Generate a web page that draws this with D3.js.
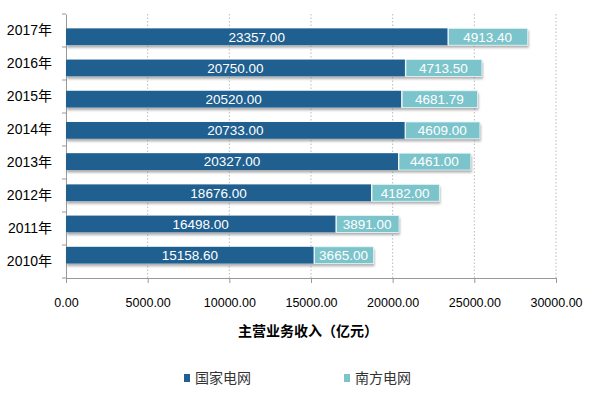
<!DOCTYPE html>
<html>
<head>
<meta charset="utf-8">
<script src="https://cdnjs.cloudflare.com/ajax/libs/d3/7.8.5/d3.min.js"></script>
<style>
body { margin: 0; background: #fff; }
text { font-family: "Liberation Sans", "Noto Sans CJK SC", sans-serif; }
</style>
</head>
<body>
<div id="chart"></div>
<script>
var years = ["2010年", "2011年", "2012年", "2013年", "2014年", "2015年", "2016年", "2017年"];
var stateGrid = [15158.60, 16498.00, 18676.00, 20327.00, 20733.00, 20520.00, 20750.00, 23357.00];
var southGrid = [3665.00, 3891.00, 4182.00, 4461.00, 4609.00, 4681.79, 4713.50, 4913.40];
var seriesNames = ["国家电网", "南方电网"];
var xTicks = [0, 5000, 10000, 15000, 20000, 25000, 30000];
var colors = ["#1f6090", "#7cc4cb"];

var W = 600, H = 398;
var svg = d3.select("#chart").append("svg")
	.attr("width", W)
	.attr("height", H);

var defs = svg.append("defs");
var shadow = defs.append("filter").attr("id", "shadow")
	.attr("x", "-5%").attr("y", "-20%").attr("width", "110%").attr("height", "160%");
shadow.append("feDropShadow")
	.attr("dx", 1).attr("dy", 2.5).attr("stdDeviation", 1.2)
	.attr("flood-color", "#777").attr("flood-opacity", 0.6);

var x = d3.scaleLinear().domain([0, 30000]).range([66, 556]);
var y = d3.scaleBand().domain(years.slice().reverse()).range([14, 278]).padding(0.46);
var band = d3.scaleBand().domain(years.slice().reverse()).range([14, 278]);

// dotted grid
svg.append("g").selectAll("line")
	.data(xTicks.slice(1))
	.enter().append("line")
	.attr("x1", function(d) { return x(d); })
	.attr("x2", function(d) { return x(d); })
	.attr("y1", 14).attr("y2", 278)
	.attr("stroke", "#bbb")
	.attr("stroke-dasharray", "1.5,2");

// x axis
var xAxis = svg.append("g")
	.attr("transform", "translate(0,278)")
	.call(d3.axisBottom(x).tickValues(xTicks).tickSize(5).tickPadding(15).tickFormat(d3.format(".2f")));
xAxis.select(".domain").attr("stroke", "#999");
xAxis.selectAll(".tick line").attr("stroke", "#999");
xAxis.selectAll("text").attr("font-size", 12.5).attr("fill", "#000");

// y axis
var yAxis = svg.append("g")
	.attr("transform", "translate(66,0)")
	.call(d3.axisLeft(band).tickSize(0).tickPadding(14));
yAxis.select(".domain").attr("stroke", "#999");
yAxis.selectAll("text").attr("font-size", 14).attr("fill", "#000");
// category separator ticks
yAxis.selectAll(".sep")
	.data(d3.range(years.length + 1))
	.enter().append("line")
	.attr("x1", -4).attr("x2", 0)
	.attr("y1", function(i) { return 14 + i * band.step(); })
	.attr("y2", function(i) { return 14 + i * band.step(); })
	.attr("stroke", "#999");

// bars
var rows = years.map(function(yr, i) {
	return { year: yr, a: stateGrid[i], b: southGrid[i] };
});
var g = svg.append("g").selectAll("g")
	.data(rows)
	.enter().append("g");

g.append("rect")
	.attr("x", function(d) { return x(0); })
	.attr("y", function(d) { return y(d.year); })
	.attr("width", function(d) { return x(d.a + d.b) - x(0); })
	.attr("height", y.bandwidth())
	.attr("fill", "#fff")
	.attr("filter", "url(#shadow)");

g.append("rect")
	.attr("x", x(0))
	.attr("y", function(d) { return y(d.year); })
	.attr("width", function(d) { return x(d.a) - x(0); })
	.attr("height", y.bandwidth())
	.attr("fill", colors[0]);

g.append("rect")
	.attr("x", function(d) { return x(d.a) + 1; })
	.attr("y", function(d) { return y(d.year); })
	.attr("width", function(d) { return x(d.a + d.b) - x(d.a) - 1; })
	.attr("height", y.bandwidth())
	.attr("fill", colors[1])
	.attr("stroke", "#e6f4f5")
	.attr("stroke-width", 0.8);

g.append("text")
	.attr("x", function(d) { return (x(0) + x(d.a)) / 2; })
	.attr("y", function(d) { return y(d.year) + y.bandwidth() / 2; })
	.attr("dy", "0.35em")
	.attr("text-anchor", "middle")
	.attr("font-size", 13.5)
	.attr("fill", "#fff")
	.text(function(d) { return d3.format(".2f")(d.a); });

g.append("text")
	.attr("x", function(d) { return (x(d.a) + x(d.a + d.b)) / 2; })
	.attr("y", function(d) { return y(d.year) + y.bandwidth() / 2; })
	.attr("dy", "0.35em")
	.attr("text-anchor", "middle")
	.attr("font-size", 13.5)
	.attr("fill", "#fff")
	.text(function(d) { return d3.format(".2f")(d.b); });

// axis title
svg.append("text")
	.attr("x", 308).attr("y", 336)
	.attr("text-anchor", "middle")
	.attr("font-size", 14)
	.attr("font-weight", "bold")
	.attr("fill", "#000")
	.text("主营业务收入（亿元）");

// legend
var legend = svg.append("g").selectAll("g")
	.data(seriesNames)
	.enter().append("g")
	.attr("transform", function(d, i) { return "translate(" + (184 + i * 160) + ",378)"; });
legend.append("rect")
	.attr("x", 0).attr("y", -4)
	.attr("width", 6).attr("height", 8)
	.attr("fill", function(d, i) { return colors[i]; });
legend.append("text")
	.attr("x", 11).attr("dy", "0.35em")
	.attr("font-size", 14)
	.attr("fill", "#333")
	.text(function(d) { return d; });
</script>
</body>
</html>
